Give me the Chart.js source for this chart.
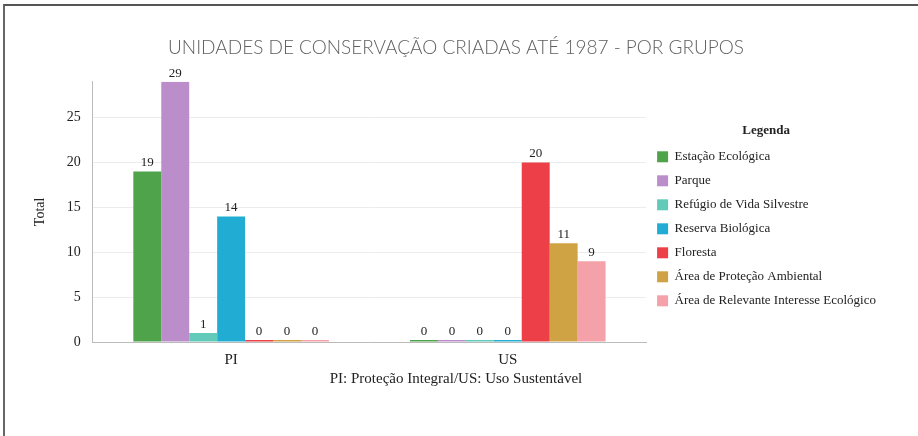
<!DOCTYPE html>
<html>
<head>
<meta charset="utf-8">
<script src="https://cdn.jsdelivr.net/npm/chart.js@4/dist/chart.umd.min.js"></script>
<style>
body{margin:0;background:#fff;}
#frame{position:absolute;left:3px;top:4px;width:913px;height:430px;border-top:2px solid #555;border-left:2px solid #666;}
#wrap{position:absolute;left:0;top:0;width:918px;height:436px;}
</style>
</head>
<body>
<div id="frame"></div>
<div id="wrap"><canvas id="chart" width="918" height="436"></canvas></div>
<script>
// ---------- DATA ----------

const groups = ["PI", "US"];

const seriesNames = [
"Estação Ecológica",
"Parque",
"Refúgio de Vida Silvestre",
"Reserva Biológica",
"Floresta",
"Área de Proteção Ambiental",
"Área de Relevante Interesse Ecológico"
];

const estacao = [19, 0];
const parque = [29, 0];
const refugio = [1, 0];
const reserva = [14, 0];
const floresta = [0, 20];
const apa = [0, 11];
const arie = [0, 9];

const yTicks = [0, 5, 10, 15, 20, 25];

const colors = ["#4fa34b", "#bb8ecb", "#62cab8", "#21add3", "#ec3f47", "#cfa244", "#f4a1a9"];


// ---------- VALUE LABELS ----------

const valueLabels = {
id: "valueLabels",
afterDatasetsDraw(chart){
const ctx = chart.ctx;
ctx.save();
ctx.font = "13px 'Liberation Serif'";
ctx.fillStyle = "#222";
ctx.textAlign = "center";
ctx.textBaseline = "bottom";
chart.data.datasets.forEach((ds, i) => {
chart.getDatasetMeta(i).data.forEach((bar, j) => {
ctx.fillText(ds.data[j], bar.x, bar.y - 2);
});
});
ctx.restore();
}
};


// ---------- CHART ----------

const allSeries = [estacao, parque, refugio, reserva, floresta, apa, arie];

const serif = "'Liberation Serif', 'Times New Roman', serif";

new Chart(document.getElementById("chart"), {

type: "bar",

data: {
labels: groups,
datasets: allSeries.map((vals, i) => ({
label: seriesNames[i],
data: vals,
backgroundColor: colors[i],
minBarLength: 2,
categoryPercentage: 0.707,
barPercentage: 1
}))
},

options: {
responsive: false,
animation: false,
layout: { padding: { left: 26, right: 32, bottom: 48 } },
plugins: {
title: {
display: true,
text: "UNIDADES DE CONSERVAÇÃO CRIADAS ATÉ 1987 - POR GRUPOS",
color: "#606060",
font: { family: "Lato", size: 19, weight: 300 },
padding: { top: 36, bottom: 23 }
},
subtitle: {
display: true,
position: "bottom",
text: "PI: Proteção Integral/US: Uso Sustentável",
color: "#222",
font: { family: serif, size: 15 },
padding: { top: 0, bottom: 0 }
},
legend: {
position: "right",
maxWidth: 280,
title: {
display: true,
text: "Legenda",
color: "#222",
font: { family: serif, size: 13, weight: "bold" },
padding: { top: 54, bottom: 0 }
},
labels: {
color: "#222",
font: { family: serif, size: 13 },
boxWidth: 11,
boxHeight: 11,
padding: 11
}
},
tooltip: { enabled: false }
},
scales: {
x: {
grid: { display: false },
border: { color: "#bbb" },
ticks: { color: "#222", font: { family: serif, size: 15 }, padding: 1 }
},
y: {
min: 0,
max: 29,
afterBuildTicks(axis){ axis.ticks = yTicks.map(v => ({ value: v })); },
grid: { color: "#ececec", drawTicks: false },
border: { color: "#bbb" },
ticks: { color: "#222", font: { family: serif, size: 14 }, padding: 12 },
title: { display: true, text: "Total", color: "#222", font: { family: serif, size: 14 }, padding: 6 }
}
}
},

plugins: [valueLabels]

});
</script>
</body>
</html>
